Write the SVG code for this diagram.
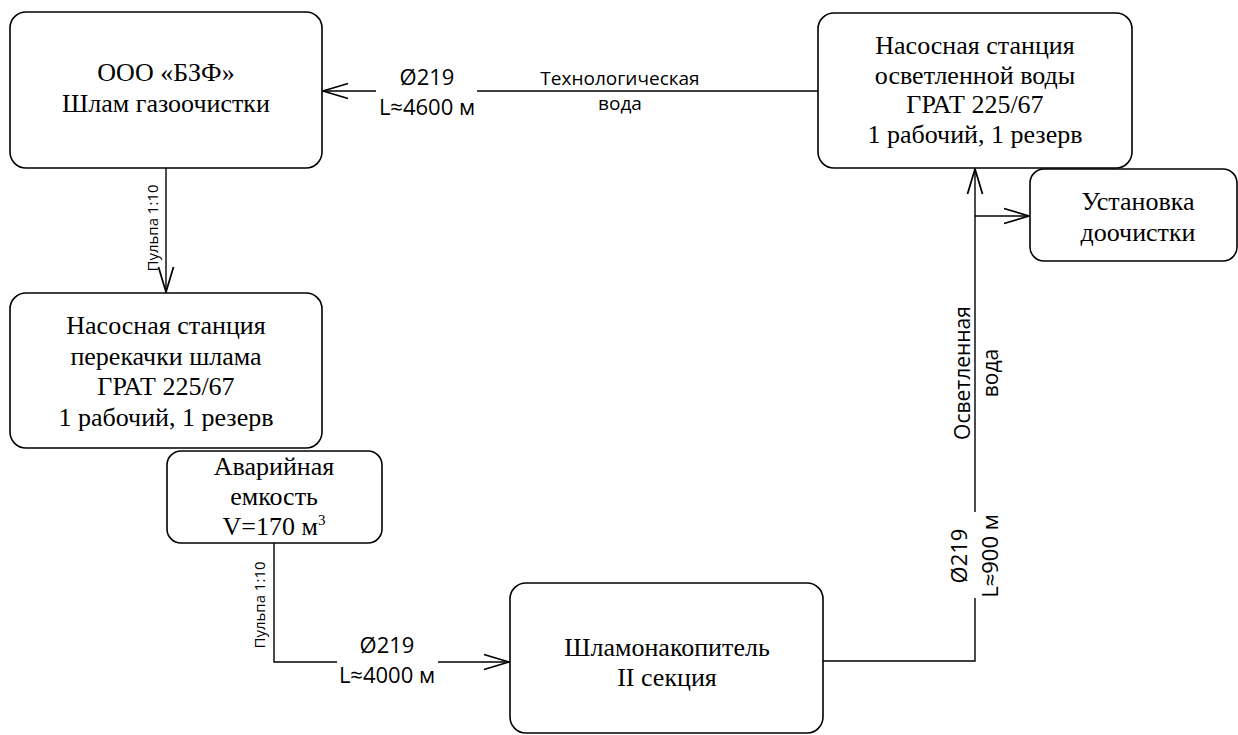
<svg xmlns="http://www.w3.org/2000/svg" width="1238" height="735" viewBox="0 0 1238 735">
<defs>
<style>
.box{fill:#fff;stroke:#000;stroke-width:1.6}
.nt{font-family:"Liberation Serif","Times New Roman",serif;font-size:26px;text-anchor:middle;fill:#000}
.ln{fill:none;stroke:#000;stroke-width:1.4}
.lb{font-family:"Open Sans","Noto Sans",sans-serif;text-anchor:middle;fill:#000}
</style>
<marker id="arr" markerUnits="userSpaceOnUse" markerWidth="30" markerHeight="20" viewBox="-22 -8 24 16" refX="0" refY="0" orient="auto">
<path d="M-20,-6 L0,0 L-20,6" fill="none" stroke="#000" stroke-width="1.4"/>
</marker>
</defs>
<rect width="1238" height="735" fill="#fff"/>

<g id="connectors">
<path class="ln" d="M166 168 V292" marker-end="url(#arr)"/>
<path class="ln" d="M818 91 H477 M376 91 H323" marker-end="url(#arr)"/>
<path class="ln" d="M274 543 V662 H337 M438 662 H509" marker-end="url(#arr)"/>
<path class="ln" d="M823 661 H975 V598 M975 512 V169" marker-end="url(#arr)"/>
<path class="ln" d="M975 216 H1029" marker-end="url(#arr)"/>
<text class="lb" font-size="15" transform="translate(158,228) rotate(-90)">Пульпа 1:10</text>
<text class="lb" font-size="15" transform="translate(265,605) rotate(-90)">Пульпа 1:10</text>
<text class="lb" font-size="22" x="427" y="85">Ø219</text>
<text class="lb" font-size="22" x="427" y="115">L≈4600 м</text>
<text class="lb" font-size="19" x="620" y="85">Технологическая</text>
<text class="lb" font-size="19" x="620" y="110">вода</text>
<text class="lb" font-size="22" x="387" y="653">Ø219</text>
<text class="lb" font-size="22" x="387" y="683">L≈4000 м</text>
<text class="lb" font-size="21" transform="translate(970,373) rotate(-90)">Осветленная</text>
<text class="lb" font-size="21" transform="translate(998,373) rotate(-90)">вода</text>
<text class="lb" font-size="22" transform="translate(967,556) rotate(-90)">Ø219</text>
<text class="lb" font-size="22" transform="translate(998,556) rotate(-90)">L≈900 м</text>
</g>

<g id="n1">
<rect class="box" x="10" y="12" width="312" height="156" rx="16"/>
<text class="nt" x="166" y="81">ООО «БЗФ»</text>
<text class="nt" x="166" y="112">Шлам газоочистки</text>
</g>
<g id="n2">
<rect class="box" x="10" y="293" width="312" height="155" rx="16"/>
<text class="nt" x="166" y="334">Насосная станция</text>
<text class="nt" x="166" y="365">перекачки шлама</text>
<text class="nt" x="166" y="395">ГРАТ 225/67</text>
<text class="nt" x="166" y="426">1 рабочий, 1 резерв</text>
</g>
<g id="n3">
<rect class="box" x="818" y="13" width="314" height="155" rx="16"/>
<text class="nt" x="975" y="54">Насосная станция</text>
<text class="nt" x="975" y="84">осветленной воды</text>
<text class="nt" x="975" y="113">ГРАТ 225/67</text>
<text class="nt" x="975" y="143">1 рабочий, 1 резерв</text>
</g>
<g id="n4">
<rect class="box" x="1030" y="169" width="207" height="92" rx="14"/>
<text class="nt" x="1138" y="210">Установка</text>
<text class="nt" x="1138" y="241">доочистки</text>
</g>
<g id="n5">
<rect class="box" x="167" y="451" width="215" height="92" rx="14"/>
<text class="nt" x="274" y="475">Аварийная</text>
<text class="nt" x="274" y="505">емкость</text>
<text class="nt" x="274" y="535">V=170 м<tspan dy="-10" font-size="15">3</tspan></text>
</g>
<g id="n6">
<rect class="box" x="510" y="583" width="313" height="150" rx="16"/>
<text class="nt" x="667" y="656">Шламонакопитель</text>
<text class="nt" x="667" y="686">II секция</text>
</g>
</svg>
